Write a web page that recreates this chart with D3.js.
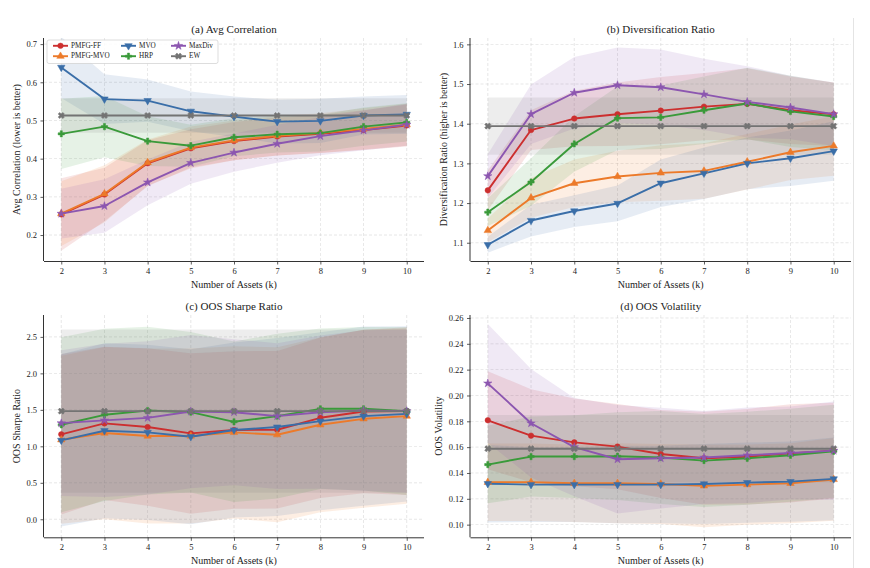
<!DOCTYPE html>
<html>
<head>
<meta charset="utf-8">
<script src="https://cdn.jsdelivr.net/npm/d3@7/dist/d3.min.js"></script>
<style>
  html, body { margin: 0; padding: 0; background: #fff; }
  svg { display: block; }
  text { font-family: "Liberation Serif", "DejaVu Serif", serif; fill: #222; }
</style>
</head>
<body>
<svg id="chart" width="870" height="568"></svg>
<script>
// ---------------- DATA ----------------
const ks = [2, 3, 4, 5, 6, 7, 8, 9, 10];
const methods = ["PMFG-FF", "PMFG-MVO", "MVO", "HRP", "MaxDiv", "EW"];
const colors = ["#cc2f2f", "#ec7a2a", "#3a6ea8", "#3a9a3a", "#8c56b0", "#737373"];

// (a) Avg Correlation: mean and std, one row per method (order as `methods`)
const corrMean = [
  [0.254, 0.306, 0.388, 0.427, 0.446, 0.458, 0.465, 0.475, 0.487],
  [0.256, 0.308, 0.390, 0.429, 0.448, 0.460, 0.467, 0.478, 0.489],
  [0.639, 0.556, 0.552, 0.524, 0.510, 0.497, 0.499, 0.513, 0.516],
  [0.465, 0.484, 0.446, 0.434, 0.456, 0.464, 0.467, 0.484, 0.495],
  [0.256, 0.276, 0.338, 0.389, 0.416, 0.439, 0.459, 0.474, 0.489],
  [0.513, 0.513, 0.513, 0.513, 0.513, 0.513, 0.513, 0.513, 0.513]
];
const corrStd = [
  [0.095, 0.070, 0.060, 0.050, 0.050, 0.050, 0.050, 0.052, 0.055],
  [0.085, 0.075, 0.060, 0.055, 0.052, 0.052, 0.052, 0.054, 0.055],
  [0.080, 0.065, 0.055, 0.052, 0.053, 0.057, 0.058, 0.050, 0.051],
  [0.092, 0.080, 0.065, 0.055, 0.050, 0.048, 0.048, 0.050, 0.050],
  [0.065, 0.070, 0.060, 0.055, 0.050, 0.050, 0.050, 0.052, 0.055],
  [0.045, 0.045, 0.045, 0.045, 0.045, 0.045, 0.045, 0.045, 0.045]
];

// (b) Diversification Ratio
const divMean = [
  [1.232, 1.384, 1.413, 1.424, 1.433, 1.443, 1.450, 1.434, 1.424],
  [1.131, 1.213, 1.250, 1.267, 1.276, 1.281, 1.304, 1.328, 1.344],
  [1.095, 1.156, 1.180, 1.199, 1.250, 1.275, 1.300, 1.313, 1.331],
  [1.177, 1.253, 1.349, 1.414, 1.416, 1.434, 1.451, 1.431, 1.418],
  [1.268, 1.424, 1.478, 1.497, 1.492, 1.474, 1.455, 1.441, 1.424],
  [1.394, 1.394, 1.394, 1.394, 1.394, 1.394, 1.394, 1.394, 1.394]
];
const divStd = [
  [0.050, 0.050, 0.070, 0.080, 0.085, 0.085, 0.090, 0.085, 0.080],
  [0.030, 0.050, 0.060, 0.065, 0.070, 0.070, 0.070, 0.070, 0.075],
  [0.020, 0.040, 0.040, 0.045, 0.060, 0.065, 0.065, 0.070, 0.075],
  [0.035, 0.060, 0.070, 0.080, 0.080, 0.085, 0.090, 0.090, 0.085],
  [0.055, 0.075, 0.090, 0.095, 0.095, 0.090, 0.090, 0.080, 0.080],
  [0.072, 0.072, 0.072, 0.072, 0.072, 0.072, 0.072, 0.072, 0.072]
];

// (c) OOS Sharpe Ratio
const sharpeMean = [
  [1.164, 1.314, 1.264, 1.177, 1.223, 1.227, 1.391, 1.477, 1.482],
  [1.090, 1.182, 1.141, 1.141, 1.191, 1.159, 1.295, 1.377, 1.414],
  [1.082, 1.214, 1.191, 1.132, 1.223, 1.264, 1.345, 1.414, 1.445],
  [1.295, 1.432, 1.490, 1.468, 1.336, 1.414, 1.514, 1.514, 1.482],
  [1.318, 1.355, 1.390, 1.477, 1.468, 1.414, 1.468, 1.491, 1.482],
  [1.482, 1.482, 1.482, 1.482, 1.482, 1.482, 1.482, 1.482, 1.482]
];
const sharpeStd = [
  [1.10, 1.05, 1.08, 1.10, 1.08, 1.08, 1.10, 1.12, 1.15],
  [1.15, 1.18, 1.20, 1.20, 1.18, 1.20, 1.20, 1.22, 1.20],
  [1.18, 1.20, 1.20, 1.20, 1.20, 1.22, 1.22, 1.23, 1.20],
  [1.20, 1.18, 1.15, 1.10, 1.10, 1.13, 1.10, 1.12, 1.15],
  [1.00, 1.05, 1.05, 1.05, 1.00, 1.00, 1.05, 1.10, 1.12],
  [1.12, 1.12, 1.12, 1.12, 1.12, 1.12, 1.12, 1.12, 1.12]
];

// (d) OOS Volatility
const volMean = [
  [0.1808, 0.1689, 0.1637, 0.1604, 0.1547, 0.1514, 0.1526, 0.1552, 0.1573],
  [0.1328, 0.1328, 0.1320, 0.1320, 0.1315, 0.1300, 0.1310, 0.1320, 0.1350],
  [0.1317, 0.1310, 0.1310, 0.1310, 0.1310, 0.1315, 0.1325, 0.1333, 0.1354],
  [0.1465, 0.1527, 0.1527, 0.1530, 0.1520, 0.1496, 0.1514, 0.1537, 0.1568],
  [0.2094, 0.1785, 0.1600, 0.1506, 0.1514, 0.1520, 0.1537, 0.1555, 0.1573],
  [0.1588, 0.1588, 0.1588, 0.1588, 0.1588, 0.1588, 0.1588, 0.1588, 0.1588]
];
const volStd = [
  [0.038, 0.036, 0.034, 0.033, 0.034, 0.036, 0.037, 0.038, 0.037],
  [0.030, 0.030, 0.030, 0.031, 0.031, 0.032, 0.031, 0.031, 0.032],
  [0.030, 0.029, 0.029, 0.030, 0.030, 0.031, 0.031, 0.031, 0.032],
  [0.030, 0.031, 0.032, 0.034, 0.036, 0.036, 0.036, 0.036, 0.036],
  [0.046, 0.042, 0.038, 0.042, 0.039, 0.036, 0.037, 0.036, 0.038],
  [0.026, 0.026, 0.026, 0.026, 0.026, 0.026, 0.026, 0.026, 0.026]
];

const corrTicks = [0.2, 0.3, 0.4, 0.5, 0.6, 0.7];
const divTicks = [1.1, 1.2, 1.3, 1.4, 1.5, 1.6];
const sharpeTicks = [0.0, 0.5, 1.0, 1.5, 2.0, 2.5];
const volTicks = [0.10, 0.12, 0.14, 0.16, 0.18, 0.20, 0.22, 0.24, 0.26];

// ---------------- LAYOUT ----------------
const svg = d3.select("#chart");
svg.append("rect").attr("width", 870).attr("height", 568).attr("fill", "#fff");

const panels = [
  { id: "a", title: "(a) Avg Correlation", ylabel: "Avg Correlation (lower is better)",
    mean: corrMean, std: corrStd, ticks: corrTicks, fmt: ".1f", domain: [0.132, 0.716],
    x0: 44, x1: 424, y0: 38, y1: 261, ylabX: 16, legend: true },
  { id: "b", title: "(b) Diversification Ratio", ylabel: "Diversification Ratio (higher is better)",
    mean: divMean, std: divStd, ticks: divTicks, fmt: ".1f", domain: [1.054, 1.616],
    x0: 470.5, x1: 851, y0: 38, y1: 261, ylabX: 443.5 },
  { id: "c", title: "(c) OOS Sharpe Ratio", ylabel: "OOS Sharpe Ratio",
    mean: sharpeMean, std: sharpeStd, ticks: sharpeTicks, fmt: ".1f", domain: [-0.247, 2.80],
    x0: 44, x1: 424, y0: 315, y1: 537.3, ylabX: 16 },
  { id: "d", title: "(d) OOS Volatility", ylabel: "OOS Volatility",
    mean: volMean, std: volStd, ticks: volTicks, fmt: ".2f", domain: [0.0902, 0.2623],
    x0: 470.5, x1: 851, y0: 315, y1: 537.3, ylabX: 438.5 }
];

// marker symbols
const markerDefs = [
  { type: d3.symbolCircle, size: 24, rot: 0 },
  { type: d3.symbolTriangle, size: 24, rot: 0 },
  { type: d3.symbolTriangle, size: 24, rot: 180 },
  { type: d3.symbolCross, size: 22, rot: 0 },
  { type: d3.symbolStar, size: 22, rot: 0 },
  { type: d3.symbolCross, size: 24, rot: 45 }
];
function markerPath(i) {
  return d3.symbol().type(markerDefs[i].type).size(markerDefs[i].size)();
}

const defs = svg.append("defs");

panels.forEach(p => {
  const x = d3.scaleLinear().domain([1.6, 10.4]).range([p.x0, p.x1]);
  const y = d3.scaleLinear().domain(p.domain).range([p.y1, p.y0]);
  const g = svg.append("g");

  defs.append("clipPath").attr("id", "clip-" + p.id)
    .append("rect").attr("x", p.x0).attr("y", p.y0)
    .attr("width", p.x1 - p.x0).attr("height", p.y1 - p.y0);

  // grid
  const grid = g.append("g");
  grid.selectAll("line.gx").data(ks).join("line")
    .attr("x1", d => x(d)).attr("x2", d => x(d))
    .attr("y1", p.y0).attr("y2", p.y1)
    .attr("stroke", "#c8c8c8").attr("stroke-width", 0.6)
    .attr("stroke-dasharray", "3,2").attr("opacity", 0.7);
  grid.selectAll("line.gy").data(p.ticks).join("line")
    .attr("x1", p.x0).attr("x2", p.x1)
    .attr("y1", d => y(d)).attr("y2", d => y(d))
    .attr("stroke", "#c8c8c8").attr("stroke-width", 0.6)
    .attr("stroke-dasharray", "3,2").attr("opacity", 0.7);

  const plot = g.append("g").attr("clip-path", "url(#clip-" + p.id + ")");

  // bands
  methods.forEach((m, i) => {
    const rows = ks.map((k, j) => ({ k, m: p.mean[i][j], s: p.std[i][j] }));
    const area = d3.area()
      .x(d => x(d.k))
      .y0(d => y(d.m - d.s))
      .y1(d => y(d.m + d.s));
    plot.append("path").datum(rows)
      .attr("d", area)
      .attr("fill", colors[i]).attr("fill-opacity", 0.13).attr("stroke", "none");
  });

  // lines + markers
  methods.forEach((m, i) => {
    const rows = ks.map((k, j) => ({ k, v: p.mean[i][j] }));
    const line = d3.line().x(d => x(d.k)).y(d => y(d.v));
    plot.append("path").datum(rows)
      .attr("d", line).attr("fill", "none")
      .attr("stroke", colors[i]).attr("stroke-width", 1.9)
      .attr("stroke-linejoin", "round");
    g.append("g").selectAll("path").data(rows).join("path")
      .attr("d", markerPath(i))
      .attr("transform", d => `translate(${x(d.k)},${y(d.v)}) rotate(${markerDefs[i].rot})`)
      .attr("fill", colors[i]).attr("stroke", colors[i]).attr("stroke-width", 0.5);
  });

  // axes
  const xAxis = d3.axisBottom(x).tickValues(ks).tickFormat(d3.format("d")).tickSize(3.5).tickPadding(3.5);
  const yAxis = d3.axisLeft(y).tickValues(p.ticks).tickFormat(d3.format(p.fmt)).tickSize(3.5).tickPadding(3.5);
  const gx = g.append("g").attr("transform", `translate(0,${p.y1})`).call(xAxis);
  const gy = g.append("g").attr("transform", `translate(${p.x0},0)`).call(yAxis);
  [gx, gy].forEach(a => {
    a.select(".domain").attr("stroke", "#333").attr("stroke-width", 1);
    a.selectAll(".tick line").attr("stroke", "#333").attr("stroke-width", 0.8);
    a.selectAll(".tick text").attr("font-family", "Liberation Serif, serif")
      .attr("font-size", 8.5).attr("fill", "#333");
  });
  gx.select(".domain").attr("d", `M${p.x0},0.5H${p.x1}`);
  gy.select(".domain").attr("d", `M-0.5,${p.y1}V${p.y0}`);

  // titles and labels
  g.append("text").attr("x", (p.x0 + p.x1) / 2).attr("y", p.y0 - 5.5)
    .attr("text-anchor", "middle").attr("font-size", 11).text(p.title);
  g.append("text").attr("x", (p.x0 + p.x1) / 2).attr("y", p.y1 + 27)
    .attr("text-anchor", "middle").attr("font-size", 10).text("Number of Assets (k)");
  g.append("text")
    .attr("transform", `translate(${p.ylabX},${(p.y0 + p.y1) / 2}) rotate(-90)`)
    .attr("text-anchor", "middle").attr("dominant-baseline", "central")
    .attr("font-size", 10).text(p.ylabel);

  // legend
  if (p.legend) {
    const lg = g.append("g");
    lg.append("rect").attr("x", 47).attr("y", 40).attr("width", 171).attr("height", 23.5)
      .attr("rx", 2).attr("fill", "#fff").attr("fill-opacity", 0.85)
      .attr("stroke", "#cfcfcf").attr("stroke-width", 0.7);
    const colX = [53, 121, 171];
    const rowY = [45.8, 56.2];
    methods.forEach((m, i) => {
      const c = Math.floor(i / 2), r = i % 2;
      const hx = colX[c], hy = rowY[r];
      lg.append("line").attr("x1", hx).attr("x2", hx + 15).attr("y1", hy).attr("y2", hy)
        .attr("stroke", colors[i]).attr("stroke-width", 1.9);
      lg.append("path").attr("d", markerPath(i))
        .attr("transform", `translate(${hx + 7.5},${hy}) rotate(${markerDefs[i].rot})`)
        .attr("fill", colors[i]).attr("stroke", colors[i]).attr("stroke-width", 0.5);
      lg.append("text").attr("x", hx + 18).attr("y", hy).attr("dominant-baseline", "central")
        .attr("font-size", 7.2).text(m);
    });
  }
});

// faint right edge line visible in the reference image
svg.append("line").attr("x1", 853.5).attr("x2", 853.5).attr("y1", 18).attr("y2", 568)
  .attr("stroke", "#e4e4e4").attr("stroke-width", 1);
</script>
</body>
</html>
